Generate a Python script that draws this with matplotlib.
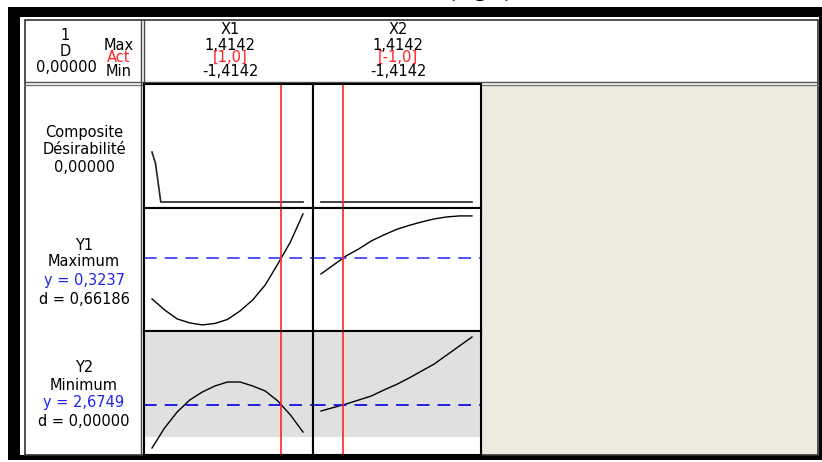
import numpy as np
import matplotlib.pyplot as plt
from matplotlib.patches import Rectangle

# figure size in pixels
W, H = 822, 462

# factor settings (coded units), shared grid for both factors
x_grid = [-1.4142, -1.1785, -0.9428, -0.7071, -0.4714, -0.2357, 0.0,
          0.2357, 0.4714, 0.7071, 0.9428, 1.1785, 1.4142]
x_act = [1.0, -1.0]
x_names = ["X1", "X2"]
x_max = ["1,4142", "1,4142"]
x_min = ["-1,4142", "-1,4142"]
x_act_txt = ["[1,0]", "[-1,0]"]

# composite desirability along each factor
d_x1_pts = [-1.4142, -1.35, -1.25, 1.4142]
d_x1_vals = [0.446, 0.348, 0.0, 0.0]
d_x2_pts = [-1.4142, 1.4142]
d_x2_vals = [0.0, 0.0]

# responses along each factor
y1_x1 = [0.160, 0.116, 0.080, 0.064, 0.056, 0.062, 0.078, 0.112, 0.156, 0.216, 0.300, 0.388, 0.500]
y1_x2 = [0.260, 0.296, 0.332, 0.360, 0.392, 0.416, 0.438, 0.454, 0.468, 0.480, 0.488, 0.492, 0.492]
y2_x1 = [2.245, 2.445, 2.605, 2.725, 2.805, 2.865, 2.905, 2.905, 2.865, 2.815, 2.715, 2.575, 2.405]
y2_x2 = [2.615, 2.650, 2.685, 2.725, 2.765, 2.825, 2.880, 2.945, 3.015, 3.085, 3.175, 3.265, 3.355]
y1_opt = 0.3237
y2_opt = 2.6749

fs = 10.5
red = '#ff2424'

fig = plt.figure(figsize=(W / 100, H / 100), dpi=100)

# background axes in pixel units
bg = fig.add_axes([0, 0, 1, 1], zorder=0)
bg.set_xlim(0, W)
bg.set_ylim(H, 0)
bg.axis('off')

# caption above the frame, mostly cut off by the page edge
bg.text(480, -3, "(réglé)", ha='center', va='baseline', fontsize=18,
        family='Liberation Serif', clip_on=False)

bg.add_patch(Rectangle((8, 7), 814, 453, fc='black', ec='none'))
bg.add_patch(Rectangle((20, 17), 799, 438, fc='white', ec='none'))
bg.add_patch(Rectangle((481, 85), 337, 370, fc='#eeeae0', ec='none'))
bg.add_patch(Rectangle((25, 20), 793, 435, fill=False, ec='#333333', lw=1.2))
bg.plot([25, 818], [82, 82], color='#555555', lw=1)
bg.plot([25, 818], [85, 85], color='#777777', lw=1)
bg.plot([141, 141], [20, 455], color='#444444', lw=1)
bg.plot([144, 144], [20, 455], color='#444444', lw=1)
bg.plot([481, 481], [85, 455], color='#555555', lw=1.5)

# header: global desirability block
bg.text(65, 35, "1", ha='center', va='center', fontsize=fs)
bg.text(65, 52, "D", ha='center', va='center', fontsize=fs)
bg.text(66, 67, "0,00000", ha='center', va='center', fontsize=fs)
bg.text(119, 45, "Max", ha='center', va='center', fontsize=fs)
bg.text(119, 57, "Act", ha='center', va='center', fontsize=fs, color=red)
bg.text(119, 71, "Min", ha='center', va='center', fontsize=fs)

# header: factors
for cx, nm, mx, ac, mn in zip([230, 398], x_names, x_max, x_act_txt, x_min):
    bg.text(cx, 30, nm, ha='center', va='center', fontsize=fs)
    bg.text(cx, 45, mx, ha='center', va='center', fontsize=fs)
    bg.text(cx, 57, ac, ha='center', va='center', fontsize=fs, color=red)
    bg.text(cx, 71, mn, ha='center', va='center', fontsize=fs)

# row labels
bg.text(84, 132, "Composite", ha='center', va='center', fontsize=fs)
bg.text(84, 150, "Désirabilité", ha='center', va='center', fontsize=fs)
bg.text(84, 168, "0,00000", ha='center', va='center', fontsize=fs)

bg.text(84, 245, "Y1", ha='center', va='center', fontsize=fs)
bg.text(84, 262, "Maximum", ha='center', va='center', fontsize=fs)
bg.text(84, 281, "y = 0,3237", ha='center', va='center', fontsize=fs, color='#2222ee')
bg.text(84, 299, "d = 0,66186", ha='center', va='center', fontsize=fs)

bg.text(84, 368, "Y2", ha='center', va='center', fontsize=fs)
bg.text(84, 385, "Minimum", ha='center', va='center', fontsize=fs)
bg.text(84, 403, "y = 2,6749", ha='center', va='center', fontsize=fs, color='#2222ee')
bg.text(84, 421, "d = 0,00000", ha='center', va='center', fontsize=fs)


def cell(x0, y0, x1, y1):
    ax = fig.add_axes([x0 / W, 1 - y1 / H, (x1 - x0) / W, (y1 - y0) / H], zorder=1)
    ax.set_xticks([])
    ax.set_yticks([])
    for s in ax.spines.values():
        s.set_linewidth(1.5)
        s.set_color('black')
    return ax


cols = [(144, 313, 1.601), (313, 481, 1.583)]
rows = [(84, 208, (-0.0536, 1.0536)), (208, 331, (0.0317, 0.5237)), (331, 455, (2.1749, 3.4149))]

d_data = [(d_x1_pts, d_x1_vals), (d_x2_pts, d_x2_vals)]
y1_data = [y1_x1, y1_x2]
y2_data = [y2_x1, y2_x2]

for j, (cx0, cx1, xr) in enumerate(cols):
    for i, (ry0, ry1, ylim) in enumerate(rows):
        ax = cell(cx0, ry0, cx1, ry1)
        ax.set_xlim(-1.564, xr)
        ax.set_ylim(*ylim)
        if i == 0:
            ax.plot(d_data[j][0], d_data[j][1], color='#222222', lw=1.2)
        elif i == 1:
            ax.plot(x_grid, y1_data[j], color='black', lw=1.0)
            ax.axhline(y1_opt, color='#4444ff', lw=1.3, dashes=(7, 4.5))
        else:
            ax.axhspan(2.3549, ylim[1], color='#e0e0e0', lw=0)
            ax.plot(x_grid, y2_data[j], color='black', lw=1.0)
            ax.axhline(y2_opt, color='#1111dd', lw=1.3, dashes=(7, 4.5))
        ax.axvline(x_act[j], color=red, lw=1.2)

fig.savefig("out.png", dpi=100)
